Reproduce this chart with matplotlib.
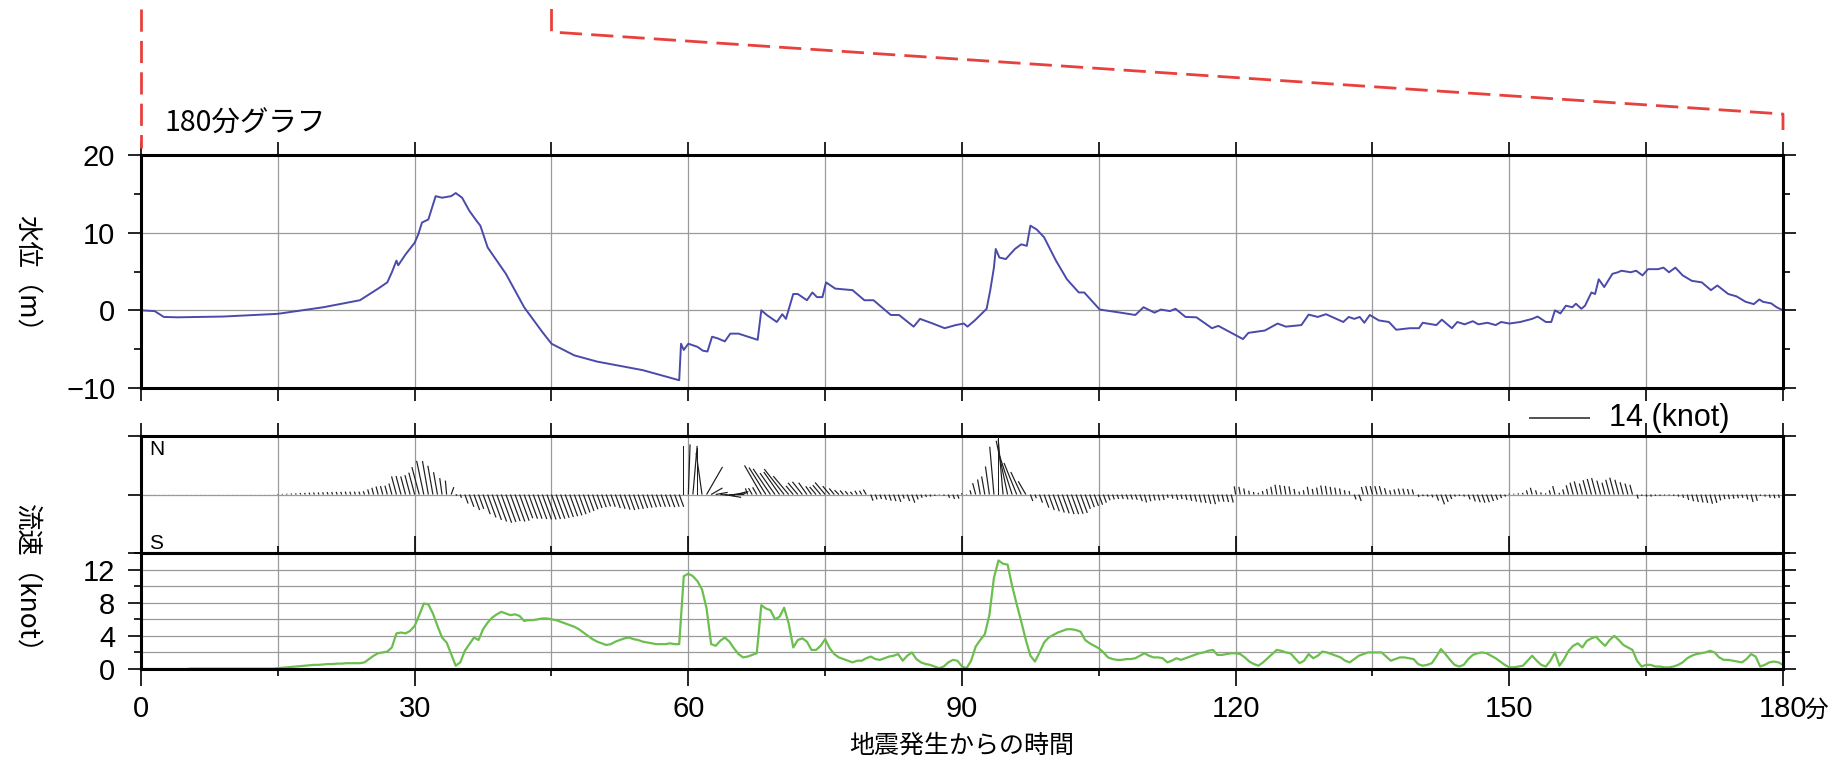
import matplotlib.pyplot as plt
import matplotlib.transforms as mtransforms
from matplotlib.ticker import MultipleLocator, FixedLocator
import numpy as np

plt.rcParams["font.family"] = ["Liberation Sans", "Noto Sans CJK JP"]

# water level (m)
wl_time = [0, 1.5, 2.5, 4, 9, 15, 20, 24, 26, 27, 27.5, 28, 28.2, 29, 30, 30.4, 30.8, 31.5,
           32.3, 33, 34, 34.5, 35.2, 36, 36.8, 37.2, 38, 40, 42, 44, 45, 47.5, 50, 55, 58.7,
           59.0, 59.2, 59.5, 60, 61, 61.6, 62.1, 62.6, 63.2, 64.0, 64.6, 65.5, 67.6, 68.0,
           68.6, 69.7, 70.3, 70.7, 71.5, 72.0, 73.0, 73.6, 74.1, 74.7, 75.1, 76.1, 78.0, 79.3,
           80.3, 82.2, 83.1, 84.7, 85.4, 86.8, 88.1, 89.3, 90.2, 90.6, 91.4, 92.7, 93.1, 93.5,
           93.7, 94.1, 94.8, 95.8, 96.5, 97.1, 97.5, 98.2, 99.0, 100.3, 101.5, 102.8, 103.4,
           105.1, 107.4, 109.0, 109.9, 111.1, 111.8, 112.8, 113.4, 114.5, 115.7, 117.4, 118.1,
           120.8, 121.4, 123.2, 124.6, 125.5, 127.2, 128.0, 129.0, 129.9, 131.8, 132.4, 133.0,
           133.6, 134.1, 134.7, 135.7, 136.8, 137.6, 139.1, 140.1, 140.5, 142.0, 142.6, 143.7,
           144.3, 145.1, 146.0, 146.6, 147.6, 148.5, 149.1, 150.0, 151.2, 152.5, 153.1, 154.0,
           154.6, 155.0, 155.6, 156.2, 156.9, 157.3, 157.9, 158.3, 159.0, 159.4, 159.8, 160.4,
           161.3, 161.9, 162.3, 163.3, 163.9, 164.6, 165.2, 166.3, 166.9, 167.5, 168.2, 169.0,
           170.0, 171.1, 172.1, 172.8, 174.0, 174.9, 175.9, 176.8, 177.4, 177.8, 178.7, 179.3,
           180]
wl_level = [0.0, -0.1, -0.85, -0.9, -0.8, -0.45, 0.4, 1.3, 2.8, 3.6, 4.9, 6.4, 5.8, 7.2, 8.7,
            9.8, 11.3, 11.7, 14.7, 14.5, 14.7, 15.1, 14.5, 12.8, 11.5, 10.9, 8.1, 4.7, 0.4, -2.8,
            -4.3, -5.8, -6.6, -7.7, -8.9, -9.0, -4.3, -5.1, -4.3, -4.7, -5.2, -5.3, -3.4, -3.6,
            -4.0, -3.0, -3.0, -3.8, 0.0, -0.6, -1.5, -0.5, -1.1, 2.1, 2.1, 1.3, 2.3, 1.7, 1.7,
            3.6, 2.8, 2.6, 1.3, 1.3, -0.6, -0.6, -2.1, -1.1, -1.7, -2.3, -1.9, -1.7, -2.1, -1.3,
            0.2, 2.6, 5.5, 7.9, 6.8, 6.6, 7.9, 8.5, 8.3, 10.9, 10.4, 9.4, 6.4, 4.0, 2.3, 2.3,
            0.1, -0.3, -0.6, 0.4, -0.3, 0.1, -0.1, 0.2, -0.85, -0.9, -2.3, -2.0, -3.7, -2.9,
            -2.6, -1.7, -2.1, -1.9, -0.55, -0.85, -0.5, -1.5, -0.85, -1.1, -0.85, -1.6, -0.6,
            -1.3, -1.5, -2.5, -2.3, -2.3, -1.6, -1.9, -1.2, -2.3, -1.5, -1.8, -1.4, -1.8, -1.6,
            -1.9, -1.5, -1.7, -1.5, -1.1, -0.8, -1.5, -1.5, 0.0, -0.4, 0.6, 0.4, 0.85, 0.2, 0.6,
            2.3, 2.1, 4.0, 3.0, 4.7, 4.9, 5.1, 4.9, 5.1, 4.5, 5.3, 5.3, 5.5, 4.9, 5.5, 4.5, 3.8,
            3.6, 2.6, 3.2, 2.1, 1.8, 1.1, 0.8, 1.4, 1.1, 0.9, 0.4, 0.0]

# current, one sample every 30 s
cur_time = np.arange(0, 180.5, 0.5)
cur_speed = [  # knot
    0, 0, 0, 0, 0, 0, 0, 0, 0, 0, 0, 0.05, 0.05, 0.05, 0.05, 0.05, 0.05, 0.05, 0.05, 0.05,
    0.05, 0.05, 0.05, 0.05, 0.05, 0.05, 0.05, 0.05, 0.05, 0.05, 0.1, 0.15, 0.2, 0.25, 0.3, 0.35, 0.4, 0.45, 0.5, 0.5,
    0.55, 0.6, 0.6, 0.65, 0.65, 0.7, 0.7, 0.7, 0.7, 0.8, 1.2, 1.6, 1.9, 2.0, 2.1, 2.6, 4.3, 4.4, 4.3, 4.6,
    5.2, 6.5, 7.9, 7.8, 6.7, 5.2, 3.8, 3.2, 1.8, 0.4, 0.8, 2.2, 3.0, 3.8, 3.5, 4.8, 5.6, 6.2, 6.6, 6.9,
    6.7, 6.5, 6.6, 6.4, 5.8, 5.9, 5.9, 6.0, 6.1, 6.1, 6.0, 5.9, 5.7, 5.5, 5.3, 5.1, 4.8, 4.4, 4.0, 3.6,
    3.3, 3.1, 2.9, 3.0, 3.3, 3.5, 3.7, 3.8, 3.6, 3.5, 3.3, 3.2, 3.1, 3.0, 3.0, 3.0, 3.1, 3.0, 3.0, 11.2,
    11.5, 11.2, 10.6, 9.6, 7.3, 3.0, 2.8, 3.4, 3.8, 3.3, 2.5, 1.8, 1.4, 1.5, 1.7, 1.9, 7.7, 7.3, 7.1, 6.0,
    6.3, 7.4, 5.5, 2.6, 3.5, 3.7, 3.3, 2.3, 2.3, 2.8, 3.6, 2.5, 1.8, 1.4, 1.2, 1.0, 0.8, 1.0, 1.0, 1.3,
    1.5, 1.2, 1.1, 1.3, 1.5, 1.6, 1.8, 1.0, 1.6, 2.0, 1.2, 0.8, 0.6, 0.5, 0.3, 0.1, 0.3, 0.8, 1.1, 1.0,
    0.3, 0.1, 1.0, 2.7, 3.5, 4.2, 6.5, 11.0, 13.1, 12.7, 12.6, 10.0, 7.8, 5.7, 3.5, 1.6, 0.9, 2.0, 3.2, 3.8,
    4.1, 4.4, 4.6, 4.8, 4.8, 4.7, 4.5, 3.5, 3.1, 2.8, 2.5, 2.0, 1.4, 1.2, 1.1, 1.1, 1.2, 1.2, 1.3, 1.6,
    1.9, 1.6, 1.4, 1.4, 1.3, 0.8, 1.0, 1.3, 1.1, 1.3, 1.5, 1.7, 1.9, 2.0, 2.2, 2.3, 1.7, 1.7, 1.8, 1.9,
    1.9, 1.8, 1.4, 0.9, 0.6, 0.4, 0.8, 1.3, 1.8, 2.3, 2.2, 2.0, 1.9, 1.3, 0.7, 1.0, 1.8, 1.3, 1.6, 2.1,
    2.0, 1.8, 1.6, 1.4, 1.0, 0.8, 1.2, 1.6, 1.8, 2.0, 2.0, 2.0, 2.0, 1.5, 1.0, 1.2, 1.4, 1.4, 1.3, 1.2,
    0.6, 0.4, 0.5, 0.7, 1.5, 2.4, 1.8, 1.1, 0.5, 0.3, 0.5, 1.2, 1.7, 1.9, 2.0, 1.9, 1.6, 1.3, 0.9, 0.5,
    0.2, 0.2, 0.3, 0.4, 1.0, 1.6, 1.0, 0.5, 0.3, 1.0, 2.0, 0.4, 1.2, 2.2, 2.8, 3.1, 2.6, 3.4, 3.7, 3.9,
    3.3, 2.8, 3.5, 4.0, 3.5, 2.9, 2.6, 2.3, 1.0, 0.3, 0.5, 0.5, 0.3, 0.3, 0.2, 0.2, 0.3, 0.5, 0.8, 1.3,
    1.6, 1.8, 1.9, 2.0, 2.2, 2.0, 1.4, 1.1, 1.1, 1.0, 0.9, 0.8, 1.2, 1.8, 1.5, 0.3, 0.5, 0.8, 0.9, 0.8,
    0.5,
]
cur_dir = [  # degrees clockwise from north
    340, 340, 340, 340, 340, 340, 340, 340, 340, 340, 340, 340, 340, 340, 340, 340, 340, 340, 340, 340,
    340, 340, 340, 340, 340, 340, 340, 340, 340, 340, 340, 340, 340, 340, 340, 340, 340, 340, 340, 340,
    340, 340, 340, 340, 340, 340, 340, 340, 340, 340, 345, 345, 345, 345, 345, 345, 345, 345, 345, 345,
    345, 345, 348, 350, 350, 350, 352, 355, 20, 120, 160, 160, 160, 160, 160, 160, 160, 160, 160, 160,
    160, 160, 160, 160, 160, 160, 160, 160, 160, 160, 160, 160, 160, 160, 160, 160, 160, 160, 160, 160,
    160, 160, 160, 160, 160, 160, 160, 160, 160, 160, 160, 160, 160, 160, 160, 160, 160, 160, 160, 0,
    2, 5, 0, 352, 30, 60, 80, 95, 100, 90, 80, 70, 60, 340, 330, 330, 330, 328, 326, 325,
    325, 322, 320, 320, 320, 322, 325, 325, 320, 320, 320, 320, 320, 315, 320, 320, 320, 330, 330, 330,
    160, 160, 160, 160, 160, 160, 160, 160, 160, 160, 160, 160, 160, 160, 160, 160, 160, 160, 160, 160,
    340, 340, 345, 345, 350, 350, 352, 355, 0, 355, 348, 342, 338, 335, 330, 160, 160, 160, 160, 160,
    160, 160, 160, 160, 160, 160, 160, 160, 160, 160, 160, 160, 160, 160, 160, 160, 160, 160, 160, 160,
    165, 165, 165, 165, 165, 165, 165, 165, 165, 165, 165, 165, 165, 165, 165, 165, 165, 165, 165, 165,
    350, 350, 350, 350, 350, 350, 350, 350, 350, 350, 350, 350, 350, 350, 350, 350, 350, 350, 350, 350,
    350, 350, 350, 350, 350, 350, 160, 160, 345, 345, 345, 345, 345, 345, 345, 345, 345, 345, 345, 345,
    160, 160, 160, 160, 160, 160, 160, 160, 160, 160, 160, 160, 160, 160, 160, 160, 160, 160, 160, 160,
    345, 345, 345, 345, 345, 345, 345, 345, 345, 345, 345, 345, 345, 345, 345, 345, 345, 345, 345, 345,
    345, 345, 345, 345, 345, 345, 345, 345, 165, 165, 165, 165, 165, 165, 165, 165, 165, 165, 165, 165,
    165, 165, 165, 165, 165, 165, 165, 165, 165, 165, 165, 165, 165, 165, 165, 165, 165, 165, 165, 165,
    165,
]
key_speed = 14

# page layout in pixels of the 1849 x 763 picture
W, H = 1849, 763
x0_px, x1_px = 141, 1783

fig = plt.figure(figsize=(W / 100, H / 100), dpi=100)


def box(top, bottom):
    return [x0_px / W, 1 - bottom / H, (x1_px - x0_px) / W, (bottom - top) / H]


ax_wl = fig.add_axes(box(155, 388))
ax_vec = fig.add_axes(box(436, 553))
ax_sp = fig.add_axes(box(553, 669))

grid_kw = dict(color="#9a9a9a", linewidth=0.9)
for ax in (ax_wl, ax_vec, ax_sp):
    ax.set_xlim(0, 180)
    ax.xaxis.set_major_locator(MultipleLocator(30))
    ax.xaxis.set_minor_locator(MultipleLocator(15))
    ax.grid(axis="x", which="both", **grid_kw)
    ax.set_axisbelow(True)
    for sp in ax.spines.values():
        sp.set_linewidth(2.2)
    ax.tick_params(which="both", direction="out", top=True, right=True,
                   width=1.2, labelsize=21, pad=9)
    ax.tick_params(which="major", length=9.5)
    ax.tick_params(axis="y", which="minor", length=5)
    ax.tick_params(axis="x", which="minor", length=9.5)

# water level
ax_wl.plot(wl_time, wl_level, color="#4a4aaa", linewidth=1.4)
ax_wl.set_ylim(-10, 20)
ax_wl.yaxis.set_major_locator(MultipleLocator(10))
ax_wl.yaxis.set_minor_locator(MultipleLocator(5))
ax_wl.grid(axis="y", which="major", **grid_kw)
ax_wl.tick_params(labelbottom=False)

# current vectors
spd = np.array(cur_speed)
ang = np.deg2rad(cur_dir)
q = ax_vec.quiver(cur_time, np.zeros_like(cur_time), spd * np.sin(ang), spd * np.cos(ang),
                  angles="uv", scale_units="inches", scale=key_speed / 0.61,
                  units="inches", width=0.012, headwidth=0, headlength=0,
                  headaxislength=0, minlength=0.3, pivot="tail", color="#1e1e1e", zorder=3)
ax_vec.set_ylim(-1, 1)
ax_vec.yaxis.set_major_locator(FixedLocator([-1, 0, 1]))
ax_vec.grid(axis="y", which="major", **grid_kw)
ax_vec.tick_params(labelbottom=False, labelleft=False)
ax_vec.quiverkey(q, 0.8825, 1.154, key_speed, f"{key_speed} (knot)", labelpos="E",
                 coordinates="axes", color="#555555", labelsep=0.19,
                 fontproperties={"size": 22})
ax_vec.text(0.005, 0.97, "N", transform=ax_vec.transAxes, fontsize=15, va="top")
ax_vec.text(0.005, 0.0, "S", transform=ax_vec.transAxes, fontsize=15, va="bottom")

# current speed
ax_sp.plot(cur_time, cur_speed, color="#6cbf4f", linewidth=1.6)
ax_sp.set_ylim(0, 14)
ax_sp.yaxis.set_major_locator(FixedLocator([0, 4, 8, 12]))
ax_sp.yaxis.set_minor_locator(FixedLocator([2, 6, 10, 14]))
ax_sp.grid(axis="y", which="both", **grid_kw)
ax_sp.tick_params(axis="x", which="major", length=12, pad=7)
ax_sp.tick_params(axis="x", which="minor", length=5)

# zoom guide lines from the chart above
jp = ["Noto Sans CJK JP"]
red = dict(color="#e8403c", linewidth=2.0, dashes=(8, 3.3), clip_on=False)
trans = mtransforms.blended_transform_factory(ax_wl.transData, fig.transFigure)
ax_wl.plot([0, 0], [1 - 9 / H, 1 - 148 / H], transform=trans, **red)
ax_wl.plot([45, 45, 180, 180], [1 - 9 / H, 1 - 32 / H, 1 - 114 / H, 1 - 130 / H],
           transform=trans, **red)

fig.text(165 / W, 1 - 124 / H, "180分グラフ", fontsize=20.5, va="center", family=jp)
fig.text(26 / W, 1 - 280 / H, "水位（m）", rotation=-90, ha="center", va="center",
         fontsize=19, family=jp)
fig.text(26 / W, 1 - 585 / H, "流速（knot）", rotation=-90, ha="center", va="center",
         fontsize=19, family=jp)
fig.text(962 / W, 1 - 746 / H, "地震発生からの時間", ha="center", va="center",
         fontsize=18, family=jp)
fig.text(1816 / W, 1 - 710 / H, "分", ha="center", va="center", fontsize=17, family=jp)

fig.savefig("out.png", dpi=100)
